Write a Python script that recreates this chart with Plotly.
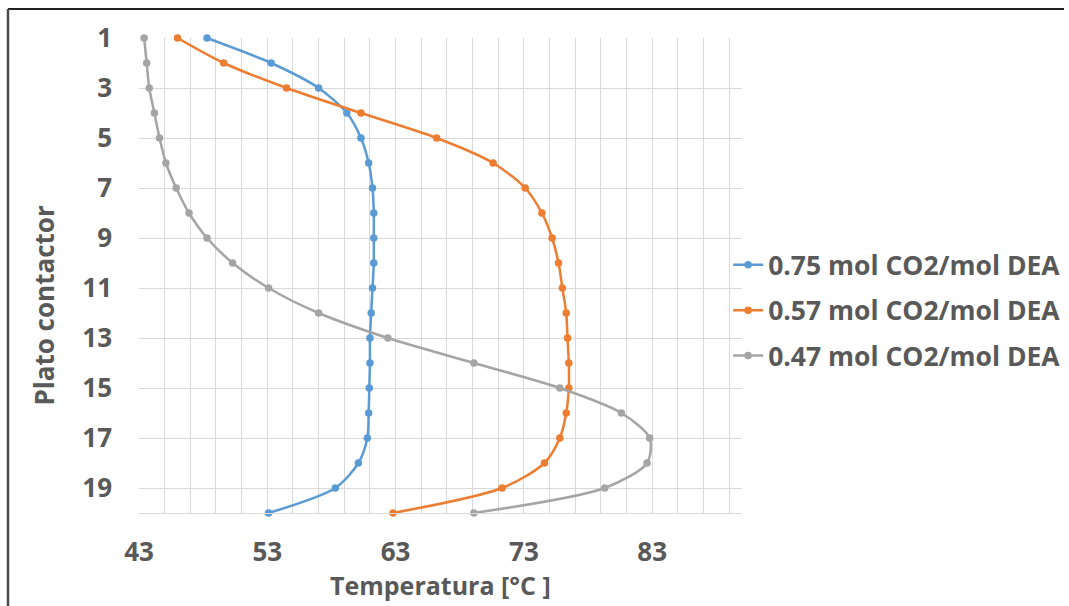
import plotly.graph_objects as go

plates = list(range(1, 21))
t_075 = [48.3, 53.3, 57.0, 59.2, 60.3, 60.9, 61.2, 61.3, 61.3, 61.3,
         61.2, 61.1, 61.0, 61.0, 60.95, 60.9, 60.8, 60.1, 58.3, 53.1]
t_057 = [46.0, 49.6, 54.5, 60.3, 66.2, 70.6, 73.1, 74.4, 75.2, 75.7,
         76.0, 76.3, 76.4, 76.5, 76.5, 76.3, 75.8, 74.6, 71.3, 62.8]
t_047 = [43.4, 43.6, 43.8, 44.2, 44.6, 45.1, 45.9, 46.9, 48.3, 50.3,
         53.1, 57.0, 62.4, 69.1, 75.8, 80.6, 82.8, 82.6, 79.3, 69.1]
series_names = ["0.75 mol CO2/mol DEA", "0.57 mol CO2/mol DEA", "0.47 mol CO2/mol DEA"]
series_vals = [t_075, t_057, t_047]
colors = ["#5B9BD5", "#ED7D31", "#A5A5A5"]
x_ticks = [43, 53, 63, 73, 83]
y_ticks = list(range(1, 20, 2))

FONT = "Open Sans"
TXT = "#595959"
GRID = "#D9D9D9"

fig = go.Figure()
for i, (name, vals, col) in enumerate(zip(series_names, series_vals, colors)):
    fig.add_trace(go.Scatter(
        x=vals, y=plates, name=name, mode="lines+markers",
        line=dict(color=col, width=2.5, shape="spline", smoothing=0.8),
        marker=dict(color=col, size=7.5),
        cliponaxis=False, legendgroup=f"g{i}",
    ))

fig.update_layout(
    width=1069, height=606,
    margin=dict(l=139, r=327, t=38, b=93, autoexpand=False),
    paper_bgcolor="white", plot_bgcolor="white",
    font=dict(family=FONT, color=TXT),
    showlegend=True,
    legend=dict(x=0.977, xanchor="left", y=0.5 - 35 / 475.3, yanchor="middle",
                font=dict(family=FONT, size=26.5, color=TXT, weight="bold"),
                tracegroupgap=8, traceorder="grouped",
                itemwidth=30, bgcolor="rgba(0,0,0,0)"),
    xaxis=dict(range=[43, 90], tickvals=x_ticks, showgrid=True, gridcolor=GRID, gridwidth=1,
               minor=dict(tick0=43, dtick=2, showgrid=True, gridcolor=GRID, gridwidth=1),
               showline=True, linecolor=GRID, linewidth=1, zeroline=False,
               tickfont=dict(family=FONT, size=26, color=TXT, weight="bold"),
               ticklabelstandoff=16, ticks=""),
    yaxis=dict(range=[20, 1], tickvals=y_ticks, showgrid=True, gridcolor=GRID, gridwidth=1,
               zeroline=False, showline=False,
               tickfont=dict(family=FONT, size=26, color=TXT, weight="bold"),
               ticklabelstandoff=26, ticks=""),
    annotations=[
        dict(text="Temperatura [°C ]", xref="paper", yref="paper", x=0.5, y=-0.0,
             xanchor="center", yanchor="middle", yshift=-(585 - 513), showarrow=False,
             font=dict(family=FONT, size=25, color=TXT, weight="bold")),
        dict(text="Plato contactor", xref="paper", yref="paper", x=0, y=0.5,
             xanchor="center", yanchor="middle", xshift=-(139 - 43), yshift=-(305 - 275),
             textangle=-90, showarrow=False,
             font=dict(family=FONT, size=26, color=TXT, weight="bold")),
    ],
    shapes=[
        dict(type="line", xref="paper", yref="paper", x0=-131 / 603, x1=(1064 - 139) / 603,
             y0=1 + 29 / 475.3, y1=1 + 29 / 475.3, line=dict(color="#222222", width=2)),
        dict(type="line", xref="paper", yref="paper", x0=-131 / 603, x1=-131 / 603,
             y0=1 + 29 / 475.3, y1=-100 / 475.3, line=dict(color="#4a4a4a", width=2.5)),
    ],
)

fig.write_html("out.html")
